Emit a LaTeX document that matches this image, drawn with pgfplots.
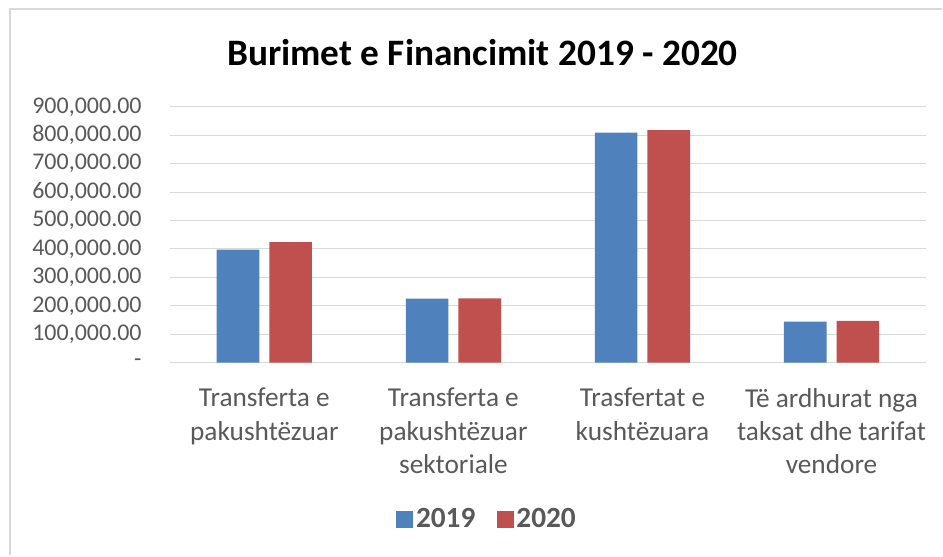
\documentclass[border=0pt]{standalone}
\usepackage{pgfplots}
\pgfplotsset{compat=1.18}
\usepackage{fontspec}
\setmainfont{Carlito}
\definecolor{cblue}{HTML}{4F81BD}
\definecolor{cred}{HTML}{C0504D}
\definecolor{tgray}{HTML}{595959}
\definecolor{ggray}{HTML}{D9D9D9}
\begin{document}
\begin{tikzpicture}[x=0.75pt,y=0.75pt]
\path (0,0) rectangle (943,556);
\draw[ggray, line width=1.5pt] (10.5,0) -- (10.5,547) -- (943,547);
\node[font=\bfseries\fontsize{28}{32}\selectfont, text=black] at (483,503) {Burimet e Financimit 2019 - 2020};
\begin{axis}[
  at={(127.5pt,144.75pt)}, anchor=south west,
  scale only axis, width=567.75pt, height=192pt,
  ybar=7.5pt, bar width=32pt,
  xmin=-0.5, xmax=3.5, ymin=0, ymax=900000,
  enlargelimits=false,
  scaled y ticks=false,
  axis line style={draw=none},
  major tick length=0pt,
  ymajorgrids, grid style={ggray, line width=0.75pt},
  ytick={0,100000,200000,300000,400000,500000,600000,700000,800000,900000},
  yticklabels={{-},{100,000.00},{200,000.00},{300,000.00},{400,000.00},{500,000.00},{600,000.00},{700,000.00},{800,000.00},{900,000.00}},
  yticklabel style={text=tgray, font=\fontsize{18}{22}\selectfont, inner sep=0pt, anchor=east, xshift=-21pt},
  xtick={0,1,2,3},
  xticklabels={{Transferta e\\pakushtëzuar},{Transferta e\\pakushtëzuar\\sektoriale},{Trasfertat e\\kushtëzuara},{Të ardhurat nga\\taksat dhe tarifat\\vendore}},
  xticklabel style={text=tgray, font=\fontsize{20.5}{25}\selectfont, align=center, inner sep=0pt, anchor=north, yshift=-19pt},
  legend style={at={(0.42,-0.613)}, anchor=center, draw=none, font=\bfseries\fontsize{22}{26}\selectfont, text=tgray,
    /tikz/every even column/.append style={column sep=14pt}},
  legend columns=2,
  legend image code/.code={\fill[#1] (0pt,-6.5pt) rectangle (12.75pt,6.25pt);},
]
\addplot[fill=cblue, draw=none] coordinates {(0,398000) (1,225000) (2,809000) (3,144000)};
\addplot[fill=cred, draw=none] coordinates {(0,424000) (1,226000) (2,818000) (3,147000)};
\legend{2019,2020}
\end{axis}
\end{tikzpicture}
\end{document}
